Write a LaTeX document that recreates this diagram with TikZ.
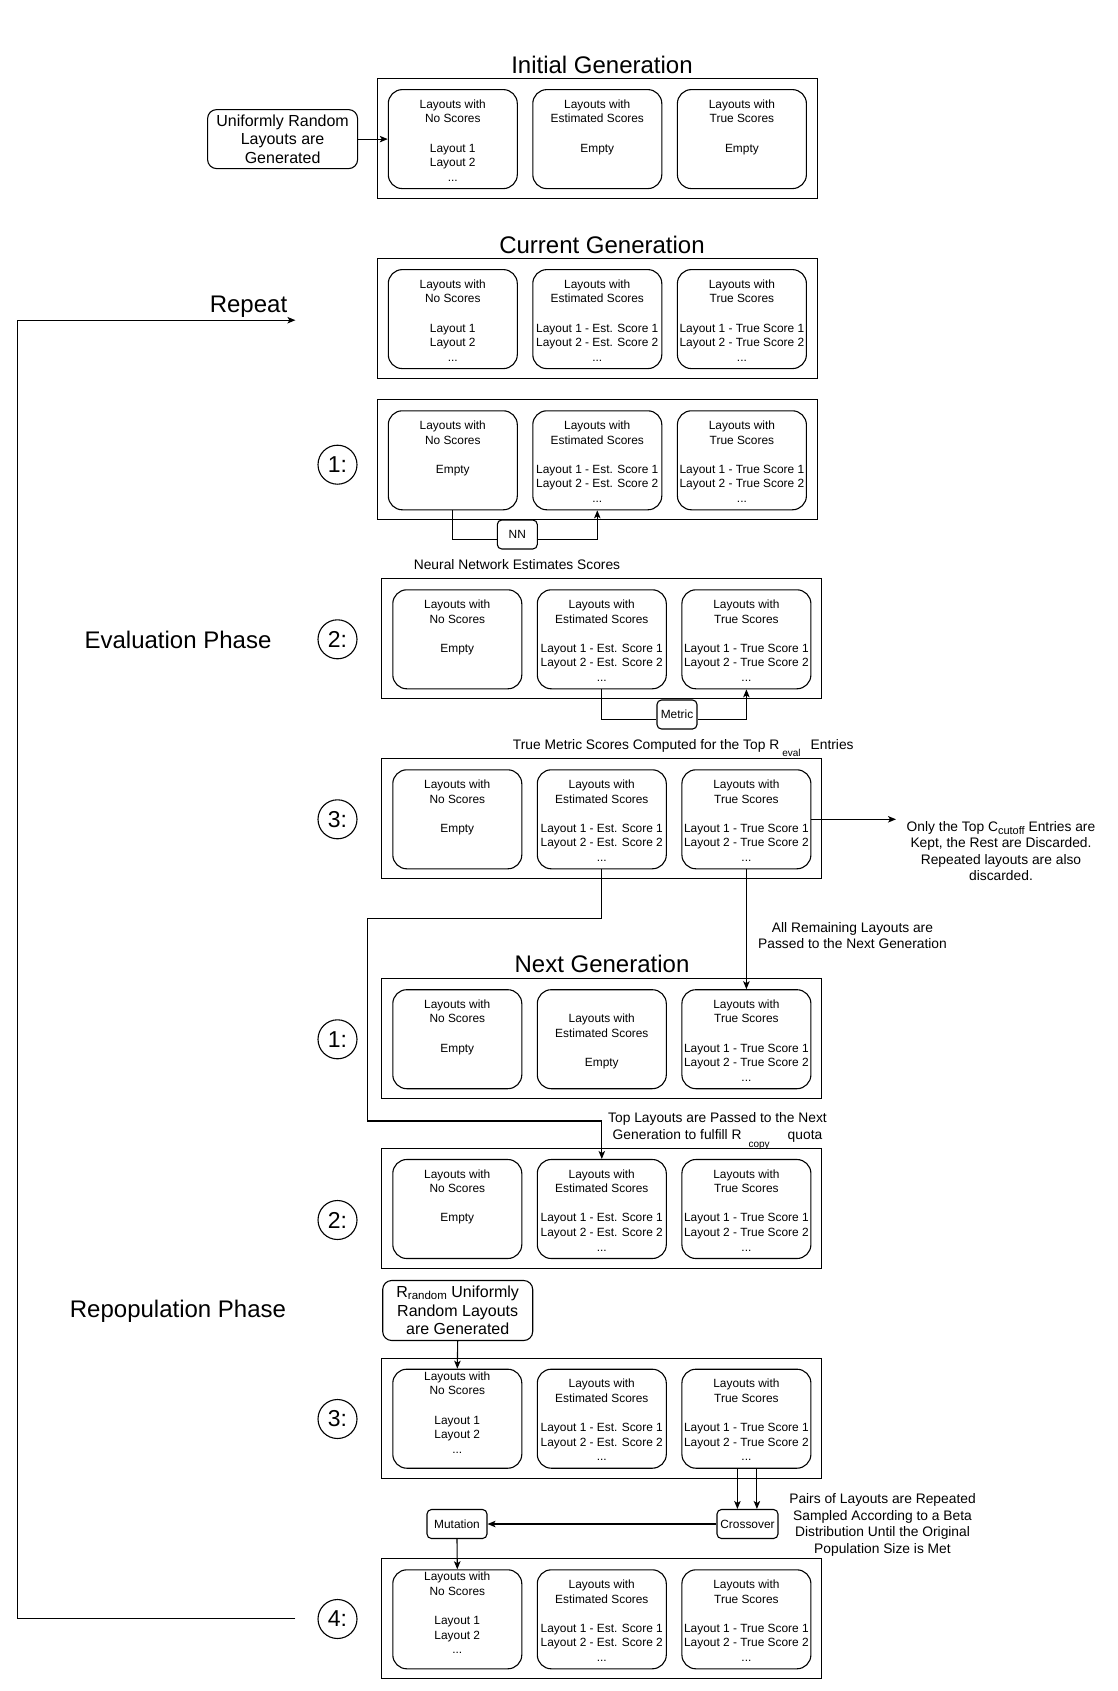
\documentclass[tikz,border=0pt]{standalone}
\usepackage{fontspec}
\setmainfont{Liberation Sans}
\usetikzlibrary{arrows.meta}

% body of a population panel: fixed-size box, text hung from the top
\newcommand\pnl[2][18.6pt]{\parbox[c][99pt][t]{129pt}{\centering\fontsize{11.9}{14.6}\selectfont\rule{0pt}{#1}#2\par}}
\newcommand\tNoL{Layouts with\\No Scores\\[14.6pt]Layout 1\\Layout 2\\...}
\newcommand\tNoE{Layouts with\\No Scores\\[14.6pt]Empty}
\newcommand\tEstL{Layouts with\\Estimated Scores\\[14.6pt]Layout 1 - Est. Score 1\\Layout 2 - Est. Score 2\\...}
\newcommand\tEstE{Layouts with\\Estimated Scores\\[14.6pt]Empty}
\newcommand\tTrueL{Layouts with\\True Scores\\[14.6pt]Layout 1 - True Score 1\\Layout 2 - True Score 2\\...}
\newcommand\tTrueE{Layouts with\\True Scores\\[14.6pt]Empty}
\newcommand\lowsub[2][8.5pt]{\raisebox{-#1}{\fontsize{10}{10}\selectfont #2}}

% one generation: outer frame plus the three population panels
\newcommand\genrow[6]{%
  \node[outer] (#1) at (597.2+#2,#3) {};
  \node[panel] (#1a) at (452.8+#2,#3+0.5) {#4};
  \node[panel] (#1b) at (597.3+#2,#3+0.5) {#5};
  \node[panel] (#1c) at (741.9+#2,#3+0.5) {#6};
}

\tikzset{
  base/.style={line width=1.1pt},
  outer/.style={base, draw, minimum width=440pt, minimum height=120pt, inner sep=0pt},
  panel/.style={base, draw, rounded corners=14pt, inner sep=0pt},
  opbox/.style={base, draw, rounded corners=4.5pt, minimum height=29pt, inner sep=3pt,
    font=\fontsize{11.9}{14}\selectfont},
  genbox/.style={base, draw, rounded corners=9pt, minimum width=150pt, minimum height=59pt,
    inner sep=0pt, align=center, font=\fontsize{16}{18.8}\selectfont},
  stepno/.style={base, draw, circle, minimum size=39pt, inner sep=0pt,
    font=\fontsize{23}{23}\selectfont},
  title/.style={font=\fontsize{24}{28}\selectfont, inner sep=0pt},
  note/.style={font=\fontsize{13.8}{16.6}\selectfont, align=center, inner sep=0pt},
  arr/.style={base, -{Stealth[length=8pt,width=6.5pt,inset=2pt]}},
  wire/.style={base},
}

\begin{document}
\begin{tikzpicture}[x=1pt,y=-1pt]
\useasboundingbox (0,0) rectangle (1118,1691);

% ---------- initial generation ----------
\node[title] (tinit) at (602,64.7) {Initial Generation};
\genrow{ini}{0}{138.6}{\pnl{\tNoL}}{\pnl{\tEstE}}{\pnl{\tTrueE}}
\node[genbox] (uni) at (282.6,139.1) {Uniformly Random\\Layouts are\\Generated};
\draw[arr] (uni.east) -- (inia.west);

% ---------- current generation ----------
\node[title] (tcur) at (602,244.7) {Current Generation};
\genrow{cur}{0}{318.6}{\pnl{\tNoL}}{\pnl{\tEstL}}{\pnl{\tTrueL}}

% ---------- evaluation phase ----------
\node[title] (teval) at (178,640) {Evaluation Phase};

\genrow{ea}{0}{459.8}{\pnl{\tNoE}}{\pnl{\tEstL}}{\pnl{\tTrueL}}
\node[stepno] (sa) at (337.5,464.7) {1:};
\node[opbox, minimum width=40pt] (nn) at (517.3,534.5) {NN};
\draw[wire] (eaa.south) |- ([yshift=-5pt]nn.west);
\draw[arr] ([yshift=-5pt]nn.east) -| (eab.south);
\node[note] (nnlbl) at (517,564.5) {Neural Network Estimates Scores};

\genrow{eb}{4.5}{638.8}{\pnl{\tNoE}}{\pnl{\tEstL}}{\pnl{\tTrueL}}
\node[stepno] (sb) at (337.5,639.3) {2:};
\node[opbox, minimum width=40pt] (met) at (677,714.5) {Metric};
\draw[wire] (ebb.south) |- ([yshift=-5pt]met.west);
\draw[arr] ([yshift=-5pt]met.east) -| (ebc.south);
\node[note, anchor=west] (metlbl) at (512.7,748)
  {True Metric Scores Computed for the Top R\hspace{3pt}\lowsub[7pt]{eval}\hspace{10pt}Entries};

\genrow{ec}{4.5}{818.8}{\pnl{\tNoE}}{\pnl{\tEstL}}{\pnl{\tTrueL}}
\node[stepno] (sc) at (337.5,819.3) {3:};
\node[note] (cut) at (1001,851)
  {Only the Top C\raisebox{-3pt}{\fontsize{11}{11}\selectfont cutoff}\ Entries are\\Kept, the Rest are Discarded.\\Repeated layouts are also\\discarded.};
\coordinate (cutin) at (896,819.3);
\draw[arr] (ecc.east) -- (cutin);

% ---------- next generation ----------
\node[title] (tnext) at (602,963.8) {Next Generation};
\genrow{na}{4.5}{1038.7}{\pnl{\tNoE}}{\pnl[33.2pt]{\tEstE}}{\pnl{\tTrueL}}
\node[stepno] (sd) at (337.5,1039.3) {1:};
\draw[arr] (ecc.south) -- (nac.north);
\node[note] (passlbl) at (852.5,935.5) {All Remaining Layouts are\\Passed to the Next Generation};

\genrow{nb}{4.5}{1208.5}{\pnl{\tNoE}}{\pnl{\tEstL}}{\pnl{\tTrueL}}
\node[stepno] (se) at (337.5,1220) {2:};
\coordinate (k1) at (367.6,918.7);
\coordinate (k2) at (367.6,1121);
\draw[arr] (ecb.south) |- (k1) -- (k2) -| (nbb.north);
\node[note] (copylbl) at (717.5,1131)
  {Top Layouts are Passed to the Next\\Generation to fulfill R\hspace{7pt}\lowsub{copy}\hspace{18pt}quota};

% ---------- repopulation phase ----------
\node[title] (trep) at (178,1311.5) {Repopulation Phase};
\node[genbox, minimum height=60pt, font=\fontsize{16}{18.6}\selectfont] (rnd) at (457.7,1310.5)
  {R\raisebox{-2pt}{\fontsize{11.5}{11.5}\selectfont random}\ Uniformly\\Random Layouts\\are Generated};

\genrow{nc}{4.5}{1418.2}{\pnl[11.1pt]{\tNoL}}{\pnl{\tEstL}}{\pnl{\tTrueL}}
\node[stepno] (sf) at (337.5,1419) {3:};
\draw[arr] (rnd.south) -- (nca.north);

\node[opbox, minimum width=61pt] (cross) at (747.5,1524) {Crossover};
\node[opbox, minimum width=60pt] (mut) at (457,1524) {Mutation};
\draw[arr] ([xshift=-9pt]ncc.south) -- ([xshift=-9pt]ncc.south |- cross.north);
\draw[arr] ([xshift=10.5pt]ncc.south) -- ([xshift=10.5pt]ncc.south |- cross.north);
\draw[arr] (cross.west) -- (mut.east);
\node[note] (pairlbl) at (882.5,1525)
  {Pairs of Layouts are Repeated\\Sampled According to a Beta\\Distribution Until the Original\\Population Size is Met};

\genrow{nd}{4.5}{1618.8}{\pnl[11.1pt]{\tNoL}}{\pnl{\tEstL}}{\pnl{\tTrueL}}
\node[stepno] (sg) at (337.5,1619) {4:};
\draw[arr] (mut.south) -- (nda.north);

% ---------- loop back to the current generation ----------
\node[title] (trpt) at (248.5,307) {Repeat};
\coordinate (loopS) at (295.4,1618.5);
\coordinate (loopB) at (17.2,1618.5);
\coordinate (loopT) at (17.2,320.2);
\coordinate (loopE) at (295.4,320.2);
\draw[arr] (loopS) -- (loopB) -- (loopT) -- (loopE);
\end{tikzpicture}
\end{document}
